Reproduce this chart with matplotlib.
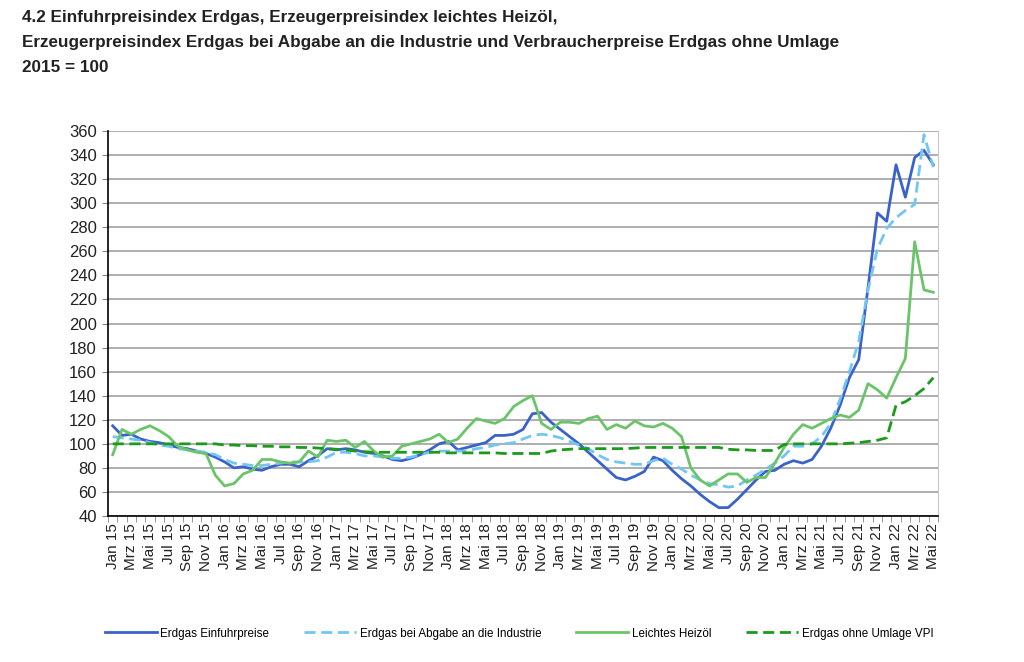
import matplotlib.pyplot as plt
from matplotlib.ticker import MultipleLocator, FixedLocator

plt.rcParams['font.family'] = ['Liberation Sans', 'DejaVu Sans']

# Monate Jan 2015 bis Mai 2022
monate = ["Jan", "Feb", "Mrz", "Apr", "Mai", "Jun", "Jul", "Aug", "Sep", "Okt", "Nov", "Dez"]
jahre = ["15", "16", "17", "18", "19", "20", "21", "22"]
labels = [m + " " + j for j in jahre for m in monate][:89]

# Erdgas Einfuhrpreise
einfuhr = [115, 107, 108, 104, 102, 101, 99, 97, 96, 94, 92, 89,
           85, 80, 81, 79, 78, 81, 83, 83, 81, 86, 90, 96,
           95, 96, 95, 93, 92, 90, 87, 86, 88, 91, 95, 100,
           102, 95, 97, 99, 101, 107, 107, 108, 112, 125, 126, 118,
           112, 106, 100, 93, 86, 79, 72, 70, 73, 77, 89, 86,
           78, 71, 65, 58, 52, 47, 47, 54, 62, 70, 77, 78,
           83, 86, 84, 87, 98, 113, 132, 155, 170, 230, 292, 285,
           332, 305, 338, 344, 332]

# Erdgas bei Abgabe an die Industrie
industrie = [106, 105, 104, 103, 101, 99, 98, 96, 95, 94, 93, 91,
             87, 84, 83, 82, 82, 83, 84, 85, 85, 85, 86, 89,
             93, 93, 92, 90, 90, 89, 88, 88, 89, 91, 93, 94,
             94, 94, 94, 96, 97, 99, 100, 101, 104, 107, 108, 107,
             105, 102, 99, 96, 91, 87, 85, 84, 83, 83, 86, 88,
             83, 79, 74, 70, 67, 66, 64, 65, 70, 74, 79, 84,
             90, 98, 98, 100, 106, 117, 137, 160, 185, 228, 262, 279,
             288, 294, 299, 357, 330]

# Leichtes Heizöl
heizoel = [91, 112, 108, 112, 115, 111, 106, 98, 95, 93, 92, 74,
           65, 67, 75, 78, 87, 87, 85, 84, 85, 94, 89, 103,
           102, 103, 97, 102, 94, 89, 90, 98, 100, 102, 104, 108,
           101, 104, 113, 121, 119, 117, 121, 131, 136, 140, 117, 112,
           118, 118, 117, 121, 123, 112, 116, 113, 119, 115, 114, 117,
           113, 106, 80, 70, 65, 70, 75, 75, 68, 72, 72, 84,
           97, 108, 116, 113, 117, 121, 124, 122, 128, 150, 145, 138,
           155, 171, 268, 228, 226]

# Erdgas ohne Umlage VPI
vpi = [100, 100, 100, 100, 100, 100, 100, 100, 100, 100, 100, 100,
       99, 99, 98.5, 98.5, 98, 98, 97.5, 97.5, 97, 97, 96.5, 96,
       95.5, 95, 94, 93.5, 93, 93, 93, 93, 93, 93, 93, 93,
       92.5, 92.5, 92.5, 92.5, 92.5, 92.5, 92, 92, 92, 92, 92, 94,
       95, 95.5, 96, 96, 96, 96, 96, 96, 96.5, 97, 97, 97,
       97, 97, 97, 97, 97, 97, 95.5, 95, 95, 94.5, 94.5, 94.5,
       99.5, 100, 100, 100, 100, 100, 100, 100.5, 101, 102, 103, 105,
       132, 135, 140, 146, 155]

x = list(range(len(labels)))

fig = plt.figure(figsize=(10.24, 6.62), dpi=100)
ax = fig.add_axes([0.1055, 0.2205, 0.8105, 0.5815])

ax.plot(x, einfuhr, color="#3b62c9", lw=2.0, label="Erdgas Einfuhrpreise")
ax.plot(x, industrie, color="#72c6f2", lw=2.0, ls=(0, (4, 2)), label="Erdgas bei Abgabe an die Industrie")
ax.plot(x, heizoel, color="#6cc46a", lw=2.0, label="Leichtes Heizöl")
ax.plot(x, vpi, color="#1b9a1b", lw=2.0, ls=(0, (4, 2)), label="Erdgas ohne Umlage VPI")

ax.set_xlim(-0.5, len(x) - 0.5)
ax.set_ylim(40, 360)
ax.yaxis.set_major_locator(MultipleLocator(20))
ax.grid(axis="y", color="#a8a8a8", lw=1.3)
ax.set_axisbelow(True)

ax.set_xticks(x[::2])
ax.set_xticklabels(labels[::2], rotation=90, fontsize=11, color="#222222")
ax.xaxis.set_minor_locator(FixedLocator([i - 0.5 for i in range(len(x) + 1)]))
ax.tick_params(axis="x", which="major", length=0, pad=5)
ax.tick_params(axis="x", which="minor", length=4, color="#888888")
ax.tick_params(axis="y", labelsize=12, length=4, color="#888888", labelcolor="#222222", pad=4)

ax.spines["top"].set_visible(False)
ax.spines["right"].set_color("#c8c8c8")
ax.spines["left"].set_linewidth(1.2)
ax.spines["bottom"].set_linewidth(1.2)

fig.legend(loc="center", bbox_to_anchor=(0.507, 0.043), ncol=4, frameon=False,
           fontsize=8.4, handlelength=4.4, handletextpad=0.34, columnspacing=3.0)

fig.text(0.021, 0.985,
         "4.2 Einfuhrpreisindex Erdgas, Erzeugerpreisindex leichtes Heizöl,\n"
         "Erzeugerpreisindex Erdgas bei Abgabe an die Industrie und Verbraucherpreise Erdgas ohne Umlage\n"
         "2015 = 100",
         ha="left", va="top", fontsize=12.3, fontweight="bold", color="#222222", linespacing=1.85)

fig.savefig("out.png", dpi=100)
